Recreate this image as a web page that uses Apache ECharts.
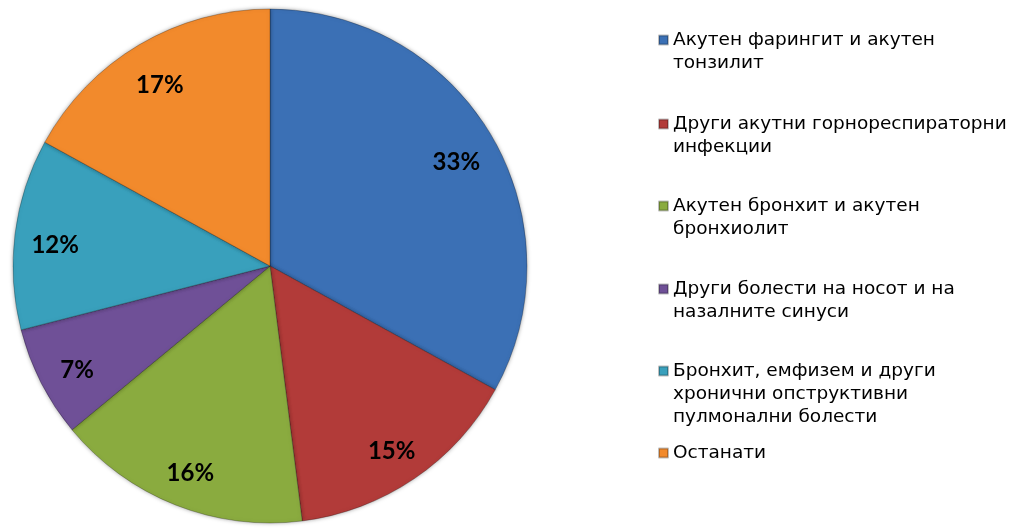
<!DOCTYPE html>
<html>
<head>
<meta charset="utf-8">
<script src="https://cdn.jsdelivr.net/npm/echarts@6/dist/echarts.min.js"></script>
<style>
  html, body { margin: 0; padding: 0; background: #fff; }
  #main { width: 1011px; height: 529px; }
</style>
</head>
<body>
<div id="main"></div>
<script>
// категории и вредности (%)
var categories = [
    'Акутен фарингит и акутен тонзилит',
    'Други акутни горнореспираторни инфекции',
    'Акутен бронхит и акутен бронхиолит',
    'Други болести на носот и на назалните синуси',
    'Бронхит, емфизем и други хронични опструктивни пулмонални болести',
    'Останати'
];
var values = [33, 15, 16, 7, 12, 17];
// текст на легендата, прекршен во редови
var legendLines = [
    ['Акутен фарингит и акутен', 'тонзилит'],
    ['Други акутни горнореспираторни', 'инфекции'],
    ['Акутен бронхит и акутен', 'бронхиолит'],
    ['Други болести на носот и на', 'назалните синуси'],
    ['Бронхит, емфизем и други', 'хронични опструктивни', 'пулмонални болести'],
    ['Останати']
];
var colors = ['#3b70b5', '#b23b39', '#8aab3f', '#6f5097', '#39a0bc', '#f28a2c'];

var myChart = echarts.init(document.getElementById('main'));

var lineH = 23;
// средина на првиот ред од секоја ставка
var legendTops = [40, 124, 206, 289, 371, 453];

var legends = categories.map(function (name, i) {
    var n = legendLines[i].length;
    // празни редови горе, за иконата да стои до првиот ред
    var pad = [];
    for (var k = 1; k < n; k++) pad.push(' ');
    return {
        data: [name],
        orient: 'vertical',
        left: 658,
        top: legendTops[i] - lineH / 2 - (n - 1) * lineH,
        padding: 0,
        icon: 'rect',
        itemWidth: 9,
        itemHeight: 9,
        selectedMode: false,
        formatter: function () { return pad.concat(legendLines[i]).join('\n'); },
        textStyle: {
            fontFamily: 'DejaVu Sans',
            fontSize: 18.5,
            lineHeight: lineH,
            color: '#000'
        }
    };
});

var pieData = categories.map(function (name, i) {
    return {
        name: name,
        value: values[i],
        itemStyle: { color: colors[i] }
    };
});

option = {
    animation: false,
    legend: legends,
    series: [
        {
            name: 'pie',
            type: 'pie',
            center: [270, 266],
            radius: [0, 257],
            startAngle: 90,
            clockwise: true,
            silent: true,
            label: { show: false },
            labelLine: { show: false },
            itemStyle: {
                borderColor: 'rgba(0,0,0,0.25)',
                borderWidth: 1,
                shadowBlur: 4,
                shadowColor: 'rgba(0,0,0,0.35)'
            },
            data: pieData
        },
        {
            // прстен само за позицијата на етикетите
            name: 'labels',
            type: 'pie',
            center: [270, 272],
            radius: [170, 257],
            startAngle: 90,
            clockwise: true,
            silent: true,
            legendHoverLink: false,
            itemStyle: { color: 'rgba(0,0,0,0)' },
            label: {
                show: true,
                position: 'inside',
                formatter: '{c}%',
                fontFamily: 'Lato',
                fontWeight: 'bold',
                fontSize: 24,
                color: '#000'
            },
            labelLine: { show: false },
            data: categories.map(function (name, i) {
                return { name: name, value: values[i] };
            })
        }
    ]
};

myChart.setOption(option);
</script>
</body>
</html>
